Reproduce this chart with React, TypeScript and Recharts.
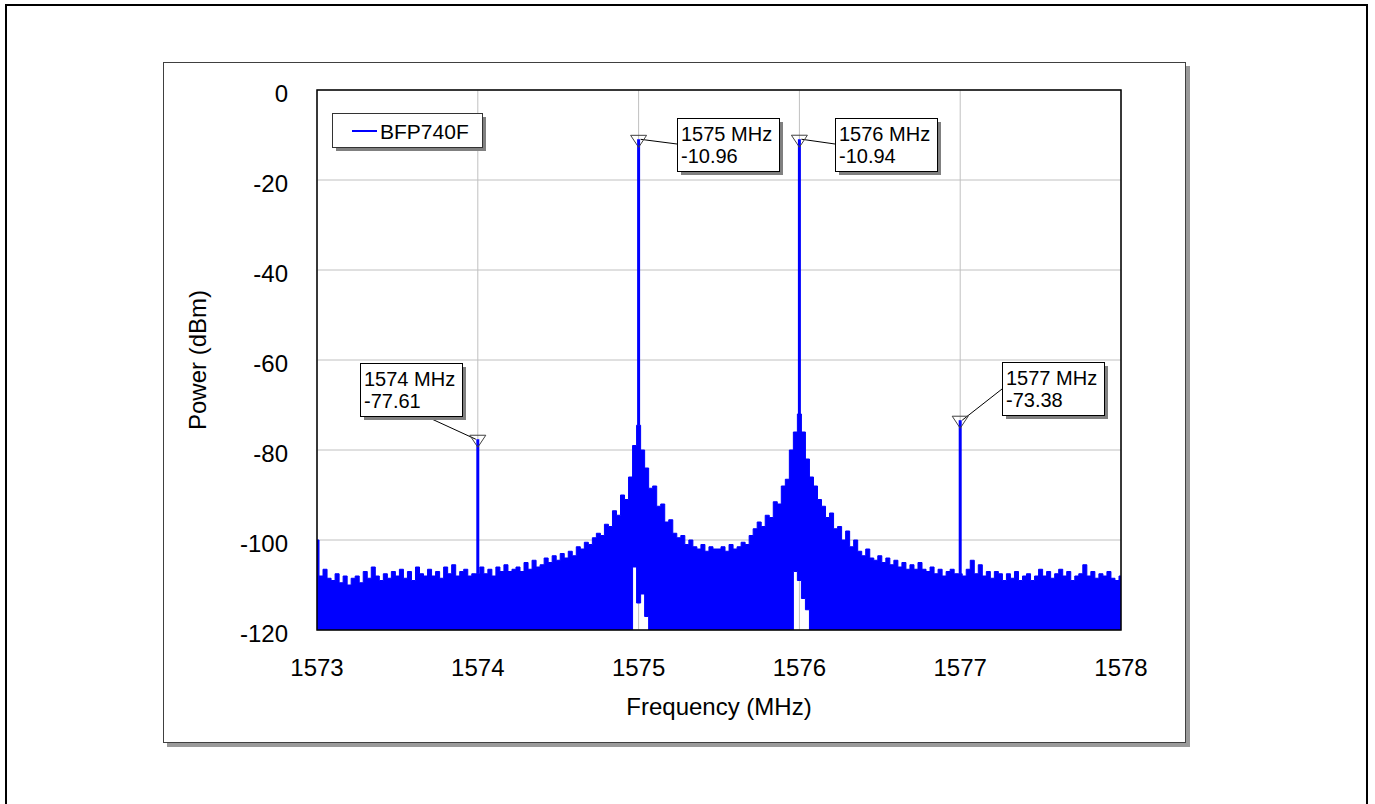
import React from 'react';
import {
  ComposedChart,
  Area,
  XAxis,
  YAxis,
  CartesianGrid,
  ReferenceLine,
  ReferenceDot,
  ReferenceArea,
  Label,
} from 'recharts';

// spectrum analyser sweep: 1573 .. 1578 MHz, 0.025 MHz bins
const SWEEP_START = 1573;
const SWEEP_STEP = 0.025;

// top of the noise trace per bin (dBm)
const NOISE_TOP = [
  -100, -108, -106.5, -108.5, -109, -107.5, -109.5, -108, -110, -108.5,
  -108, -109.5, -107, -108.5, -106, -108, -109, -107.5, -108.5, -107,
  -108, -106.5, -108.5, -107, -109, -106, -107.5, -108, -106.5, -108,
  -107, -108.5, -106, -107.5, -105.5, -108, -107, -106.5, -108, -107.5,
  -107.5, -106, -107.5, -106.5, -108, -106, -107, -105.5, -107, -106.5,
  -106, -107, -105, -106.5, -104.5, -106, -105.5, -104, -105, -103.5,
  -104.5, -103, -104, -102.5, -103.5, -101.5, -102, -100.5, -101, -99.5,
  -98.5, -99, -96.5, -97, -93.5, -94.5, -90, -91, -86, -79,
  -74.5, -80, -84, -88.5, -88, -92.5, -92, -96, -95.5, -98.5,
  -99.5, -99, -101, -100, -101.5, -102, -101, -102.5, -101.5, -102,
  -102, -101.5, -102.5, -101, -102, -101.5, -100.5, -101, -99, -97.5,
  -96, -97, -94.5, -95, -91.5, -92, -88, -86.5, -80, -76,
  -72, -76, -82, -86, -88, -91, -92.5, -95, -94, -97.5,
  -97, -100, -98, -101.5, -100, -102.5, -103.5, -102, -104, -104.5,
  -103.5, -105, -104, -105.5, -104.5, -106, -105, -106.5, -105.5, -106.5,
  -105, -106.5, -107, -106, -107.5, -106.5, -108, -107, -106.5, -107.5,
  -107.5, -108, -106.5, -104.5, -107.5, -105.5, -108, -107, -108.5, -107,
  -107.5, -109, -107.5, -108.5, -107, -109, -108, -107.5, -109, -108,
  -106.5, -108, -107, -108.5, -107.5, -106.5, -108, -107, -109, -108,
  -107.5, -105.5, -108, -107, -108.5, -107.5, -108, -107, -108.5, -109,
  -108,
];

// bins where the trace bottom lifts off the floor (white gaps near the carriers)
const GAP_FREQ = [1574.975, 1575.0, 1575.025, 1575.05, 1575.975, 1576.0, 1576.025, 1576.05];
const GAP_LOW = [-106, -114, -112, -117, -107, -109, -113, -115.5];

const MARKER_FREQ = [1574, 1575, 1576, 1577];
const MARKER_DBM = [-77.61, -10.96, -10.94, -73.38];

const X_TICKS = [1573, 1574, 1575, 1576, 1577, 1578];
const Y_TICKS = [-120, -100, -80, -60, -40, -20, 0];
const SERIES_NAME = 'BFP740F';

const BLUE = '#0000ff';
const FONT = '"Liberation Sans", Arial, sans-serif';
const Y_MIN = -120;

// where each marker's readout box sits relative to the marker (px)
const BOX_POS = [
  { dx: -118, dy: -76, ax: 63, ay: 52, sx: -2 },
  { dx: 38, dy: -21, ax: 0, ay: 26, sx: 2 },
  { dx: 36, dy: -21, ax: 0, ay: 26, sx: 2 },
  { dx: 42, dy: -58, ax: 0, ay: 27, sx: 2 },
];

const noiseData = NOISE_TOP.map((top, i) => {
  const f = +(SWEEP_START + i * SWEEP_STEP).toFixed(3);
  const g = GAP_FREQ.indexOf(f);
  return { f, band: [g >= 0 ? GAP_LOW[g] : Y_MIN, top] };
});

const noiseAt = (f: number) => NOISE_TOP[Math.round((f - SWEEP_START) / SWEEP_STEP)];

const XTick = ({ x, y, payload }: any) => (
  <text x={x} y={y + 46} textAnchor="middle" fontSize={24} fontFamily={FONT} fill="#000">
    {payload.value}
  </text>
);

const YTick = ({ x, y, payload }: any) => (
  <text x={x - 29} y={y + 12} textAnchor="end" fontSize={24} fontFamily={FONT} fill="#000">
    {payload.value}
  </text>
);

function MarkerShape({ cx, cy, idx }: any) {
  const pos = BOX_POS[idx];
  const bx = Math.round(cx + pos.dx);
  const by = Math.round(cy + pos.dy);
  return (
    <g>
      <line x1={cx + pos.sx} y1={cy} x2={bx + pos.ax} y2={by + pos.ay} stroke="#000" strokeWidth={1} />
      <polygon
        points={`${cx - 8},${cy - 4} ${cx + 8},${cy - 4} ${cx},${cy + 8}`}
        fill="none"
        stroke="#404040"
        strokeWidth={1}
      />
      <rect x={bx + 4} y={by + 4} width={102} height={53} fill="#808080" />
      <rect x={bx + 0.5} y={by + 0.5} width={102} height={53} fill="#fff" stroke="#000" strokeWidth={1} />
      <text x={bx + 4} y={by + 23} fontSize={20} fontFamily={FONT} fill="#000">
        {MARKER_FREQ[idx]} MHz
      </text>
      <text x={bx + 4} y={by + 45} fontSize={20} fontFamily={FONT} fill="#000">
        {MARKER_DBM[idx].toFixed(2)}
      </text>
    </g>
  );
}

export default function App() {
  return (
    <div style={{ position: 'absolute', left: 0, top: 0, width: 1375, height: 804, overflow: 'hidden', background: '#fff' }}>
      {/* outer frame */}
      <div
        style={{
          position: 'absolute', left: 5, top: 4, width: 1363, height: 820,
          border: '2px solid #000', boxSizing: 'border-box',
        }}
      />
      {/* chart panel */}
      <div
        style={{
          position: 'absolute', left: 163, top: 62, width: 1023, height: 681,
          border: '1px solid #404040', boxSizing: 'border-box', background: '#fff',
          boxShadow: '4px 4px 0 #9a9a9a',
        }}
      />
      <div style={{ position: 'absolute', left: 0, top: 0 }}>
        <ComposedChart
          width={1375}
          height={804}
          data={noiseData}
          margin={{ top: 90, right: 254, bottom: 74, left: 187 }}
        >
          <CartesianGrid stroke="#c0c0c0" strokeWidth={1} />
          <XAxis
            dataKey="f"
            type="number"
            domain={[1573, 1578]}
            ticks={X_TICKS}
            axisLine={false}
            tickLine={false}
            tickSize={0}
            tickMargin={0}
            height={100}
            tick={<XTick />}
            allowDataOverflow
          >
            <Label
              content={({ viewBox }: any) => (
                <text
                  x={viewBox.x + viewBox.width / 2}
                  y={viewBox.y + 85}
                  textAnchor="middle"
                  fontSize={24}
                  fontFamily={FONT}
                  fill="#000"
                >
                  Frequency (MHz)
                </text>
              )}
            />
          </XAxis>
          <YAxis
            type="number"
            domain={[-120, 0]}
            ticks={Y_TICKS}
            axisLine={false}
            tickLine={false}
            tickSize={0}
            tickMargin={0}
            width={130}
            tick={<YTick />}
            allowDataOverflow
          >
            <Label
              content={({ viewBox }: any) => {
                const lx = viewBox.x + 19;
                const ly = viewBox.y + viewBox.height / 2;
                return (
                  <text
                    x={lx}
                    y={ly}
                    transform={`rotate(-90 ${lx} ${ly})`}
                    textAnchor="middle"
                    fontSize={24}
                    fontFamily={FONT}
                    fill="#000"
                  >
                    Power (dBm)
                  </text>
                );
              }}
            />
          </YAxis>
          <Area
            dataKey="band"
            type="step"
            stroke={BLUE}
            strokeWidth={1}
            fill={BLUE}
            fillOpacity={1}
            dot={false}
            activeDot={false}
            isAnimationActive={false}
          />
          {MARKER_FREQ.map((f, i) => (
            <ReferenceLine
              key={`spike-${f}`}
              segment={[{ x: f, y: noiseAt(f) }, { x: f, y: MARKER_DBM[i] }]}
              stroke={BLUE}
              strokeWidth={3}
            />
          ))}
          <ReferenceArea
            x1={1573}
            x2={1578}
            y1={-120}
            y2={0}
            fill="none"
            stroke="#000"
            strokeWidth={1.5}
            ifOverflow="visible"
          />
          {MARKER_FREQ.map((f, i) => (
            <ReferenceDot
              key={`mk-${f}`}
              x={f}
              y={MARKER_DBM[i]}
              r={8}
              ifOverflow="visible"
              shape={(p: any) => <MarkerShape cx={p.cx} cy={p.cy} idx={i} />}
            />
          ))}
        </ComposedChart>
      </div>
      {/* legend */}
      <svg style={{ position: 'absolute', left: 0, top: 0 }} width={1375} height={804} pointerEvents="none">
        <rect x={336} y={117} width={150} height={34} fill="#808080" />
        <rect x={332.5} y={113.5} width={150} height={34} fill="#fff" stroke="#333" strokeWidth={1} />
        <line x1={352} y1={131} x2={377} y2={131} stroke={BLUE} strokeWidth={2} />
        <text x={380} y={139} fontSize={21} fontFamily={FONT} fill="#000">
          {SERIES_NAME}
        </text>
      </svg>
    </div>
  );
}
